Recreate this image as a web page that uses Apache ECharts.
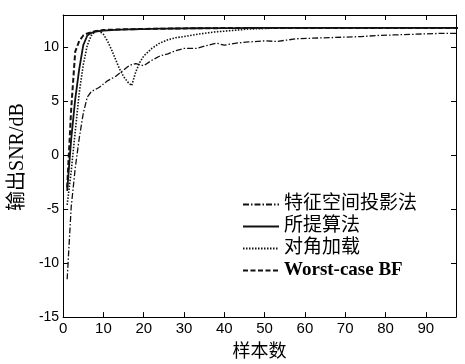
<!DOCTYPE html>
<html>
<head>
<meta charset="utf-8">
<script src="https://cdn.jsdelivr.net/npm/echarts@6/dist/echarts.min.js"></script>
<style>
  html, body { margin: 0; padding: 0; background: #fff; }
  #main { width: 465px; height: 364px; }
</style>
</head>
<body>
<div id="main"></div>
<script>
// sample counts (x axis)
var samples = [1, 2, 3, 4, 5, 6, 7, 8, 9, 10, 11, 12, 13, 14, 15, 16, 17, 18, 19, 20,
    22, 24, 26, 28, 30, 33, 36, 38, 40, 43, 46, 50, 53, 55, 58, 62, 66, 70, 74, 78,
    82, 86, 90, 94, 98];

// output SNR (dB) per method
var eigenSpace = [-11.5, -4.8, -1.2, 1.6, 3.9, 5.4, 5.9, 6.1, 6.3, 6.6, 6.9, 7.1, 7.3, 7.6, 7.9, 8.2, 8.4, 8.5, 8.4, 8.3,
    8.8, 9.2, 9.4, 9.7, 9.9, 9.9, 10.2, 10.4, 10.2, 10.4, 10.5, 10.6, 10.55, 10.65, 10.8, 10.85, 10.9, 10.95, 11.0, 11.1,
    11.15, 11.2, 11.25, 11.3, 11.3];
var proposed = [-3.3, 1.5, 5.2, 8.0, 10.2, 11.1, 11.35, 11.45, 11.5, 11.55, 11.58, 11.6, 11.62, 11.64, 11.65, 11.66, 11.67, 11.68, 11.69, 11.7,
    11.72, 11.73, 11.74, 11.75, 11.76, 11.77, 11.78, 11.78, 11.79, 11.79, 11.8, 11.8, 11.8, 11.8, 11.8, 11.8, 11.8, 11.8, 11.8, 11.8,
    11.8, 11.8, 11.8, 11.8, 11.8];
var diagLoading = [-4.6, -1.5, 2.2, 5.8, 8.4, 10.2, 11.1, 11.5, 11.5, 11.2, 10.6, 9.8, 8.9, 8.0, 7.3, 6.8, 6.45, 7.7, 8.6, 9.2,
    9.9, 10.4, 10.7, 10.9, 11.0, 11.2, 11.35, 11.45, 11.5, 11.6, 11.7, 11.75, 11.8, 11.8, 11.8, 11.8, 11.8, 11.8, 11.8, 11.8,
    11.8, 11.8, 11.8, 11.8, 11.8];
var worstCase = [-3.0, 4.3, 9.6, 10.6, 11.1, 11.3, 11.4, 11.5, 11.55, 11.6, 11.62, 11.64, 11.65, 11.66, 11.67, 11.68, 11.69, 11.7, 11.7, 11.71,
    11.72, 11.73, 11.74, 11.75, 11.76, 11.77, 11.78, 11.78, 11.79, 11.79, 11.8, 11.8, 11.8, 11.8, 11.8, 11.8, 11.8, 11.8, 11.8, 11.8,
    11.8, 11.8, 11.8, 11.8, 11.8];

var names = ['特征空间投影法', '所提算法', '对角加载', 'Worst-case BF'];

function pairs(ys) {
    return samples.map(function (x, i) { return [x, ys[i]]; });
}

var myChart = echarts.init(document.getElementById('main'));
var font = 'Liberation Sans, Arial, sans-serif';
var boxAxis = {
    axisLine: { show: true, onZero: false, lineStyle: { color: '#000', width: 1 } },
    axisTick: { show: true, inside: true, length: 5, lineStyle: { color: '#000' } },
    splitLine: { show: false }
};

option = {
    animation: false,
    backgroundColor: '#fff',
    grid: { left: 54, right: 9, top: 15, bottom: 37 },
    legend: {
        orient: 'vertical',
        left: 242,
        top: 195,
        padding: 0,
        itemWidth: 36,
        itemHeight: 10,
        itemGap: 3,
        data: names,
        itemStyle: { opacity: 0 },
        textStyle: {
            color: '#000',
            fontSize: 19,
            fontFamily: 'Liberation Serif, Noto Sans CJK SC, serif',
            rich: {
                b: { fontSize: 19, fontWeight: 'bold', fontFamily: 'Liberation Serif, serif', color: '#000' }
            }
        },
        formatter: function (n) {
            return n === 'Worst-case BF' ? '{b|' + n + '}' : n;
        }
    },
    xAxis: [
        Object.assign({}, boxAxis, {
            type: 'value', min: 0, max: 97.5, interval: 10, position: 'bottom',
            name: '样本数', nameLocation: 'middle', nameGap: 19,
            nameTextStyle: { color: '#000', fontSize: 18, fontFamily: 'Noto Sans CJK SC' },
            axisLabel: { color: '#000', fontSize: 15, fontFamily: font, margin: 4, showMaxLabel: false }
        }),
        Object.assign({}, boxAxis, {
            type: 'value', min: 0, max: 97.5, interval: 10, position: 'top',
            axisLabel: { show: false }
        })
    ],
    yAxis: [
        Object.assign({}, boxAxis, {
            type: 'value', min: -15, max: 13, interval: 5, position: 'left',
            name: '输出SNR/dB', nameLocation: 'middle', nameGap: 21,
            nameTextStyle: { color: '#000', fontSize: 20, fontFamily: 'Liberation Serif, Noto Sans CJK SC', padding: [0, 0, 0, 18] },
            axisLabel: { color: '#000', fontSize: 14, fontFamily: font, margin: 4, showMaxLabel: false }
        }),
        Object.assign({}, boxAxis, {
            type: 'value', min: -15, max: 13, interval: 5, position: 'right',
            axisLabel: { show: false }
        })
    ],
    series: [
        {
            name: names[0], type: 'line', symbol: 'none', data: pairs(eigenSpace),
            lineStyle: { color: '#111', width: 1.3, type: [6, 2, 1.5, 2] }, itemStyle: { color: '#111' }
        },
        {
            name: names[1], type: 'line', symbol: 'none', data: pairs(proposed),
            lineStyle: { color: '#111', width: 1.8, type: 'solid' }, itemStyle: { color: '#111' }
        },
        {
            name: names[2], type: 'line', symbol: 'none', data: pairs(diagLoading),
            lineStyle: { color: '#111', width: 1.6, type: [1.5, 1.5] }, itemStyle: { color: '#111' }
        },
        {
            name: names[3], type: 'line', symbol: 'none', data: pairs(worstCase),
            lineStyle: { color: '#111', width: 2, type: [5, 2.5] }, itemStyle: { color: '#111' }
        }
    ]
};
myChart.setOption(option);
</script>
</body>
</html>
